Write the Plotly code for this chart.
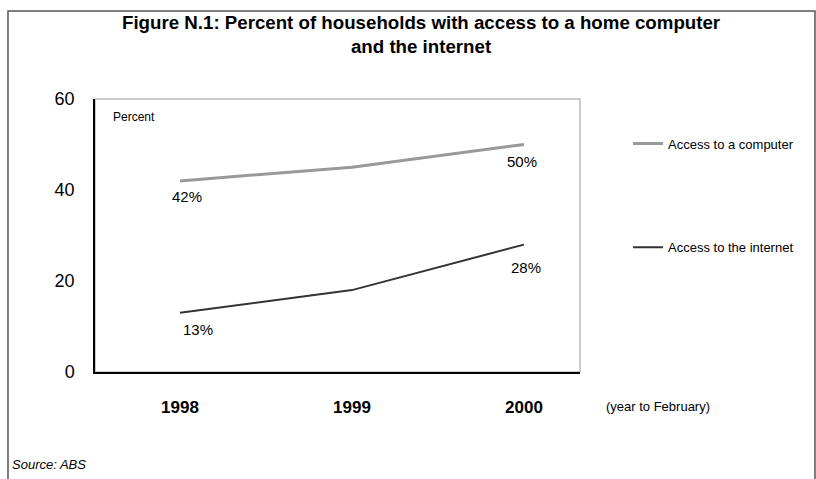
import plotly.graph_objects as go

years = [1998, 1999, 2000]
year_labels = ["1998", "1999", "2000"]
computer = [42, 45, 50]
internet = [13, 18, 28]
series_names = ["Access to a computer", "Access to the internet"]
y_ticks = [0, 20, 40, 60]
title_text = "Figure N.1: Percent of households with access to a home computer<br>and the internet"

FONT = "Liberation Sans, Arial, sans-serif"

fig = go.Figure()
fig.add_trace(go.Scatter(x=years, y=computer, mode="lines", name=series_names[0],
                         line=dict(color="#999999", width=3), legendgroup="a"))
fig.add_trace(go.Scatter(x=years, y=internet, mode="lines", name=series_names[1],
                         line=dict(color="#333333", width=2), legendgroup="b"))

# data labels
label_pts = [
    (years[0], computer[0], 7, -16),
    (years[2], computer[2], -2, -17),
    (years[0], internet[0], 18, -17),
    (years[2], internet[2], 2, -23),
]
for x, y, xs, ys in label_pts:
    fig.add_annotation(x=x, y=y, text=f"{y}%", showarrow=False, xshift=xs, yshift=ys,
                       font=dict(family=FONT, size=15, color="#000"))

# title
fig.add_annotation(xref="paper", yref="paper", x=0.672, y=1.238, xanchor="center", yanchor="middle",
                   text=f"<b>{title_text}</b>", showarrow=False, align="center",
                   font=dict(family=FONT, size=18.7, color="#000"))

fig.add_annotation(xref="paper", yref="paper", x=0.032, y=0.934, xanchor="left", yanchor="middle",
                   text="Percent", showarrow=False, font=dict(family=FONT, size=12, color="#000"))
fig.add_annotation(xref="paper", yref="paper", x=1.05, y=-0.125, xanchor="left", yanchor="middle",
                   text="(year to February)", showarrow=False, font=dict(family=FONT, size=13, color="#000"))
fig.add_annotation(xref="paper", yref="paper", x=-0.175, y=-0.34, xanchor="left", yanchor="middle",
                   text="<i>Source: ABS</i>", showarrow=False, font=dict(family=FONT, size=13, color="#000"))

# plot-area top/right border (gray)
fig.add_shape(type="rect", xref="paper", yref="paper", x0=0, x1=1, y0=0, y1=1,
              line=dict(color="#bbbbbb", width=1.5), layer="below")
# outer figure frame
fig.add_shape(type="rect", xref="paper", yref="paper", x0=-0.1794, x1=1.4845, y0=-0.43, y1=1.3223,
              line=dict(color="#555555", width=1.5))

fig.update_layout(
    width=816, height=479,
    margin=dict(l=95, r=236, t=99, b=107),
    paper_bgcolor="white", plot_bgcolor="white",
    showlegend=True,
    legend=dict(x=1.099, xanchor="left", y=0.892, yanchor="top", tracegroupgap=84,
                font=dict(family=FONT, size=13, color="#000"), bgcolor="rgba(0,0,0,0)"),
    xaxis=dict(range=[1997.506, 2000.326], tickvals=years, ticktext=year_labels,
               showgrid=False, zeroline=False, showline=True, linecolor="#000", linewidth=1.5,
               ticks="", ticklabelstandoff=19,
               tickfont=dict(family=FONT, size=17, color="#000", weight="bold")),
    yaxis=dict(range=[0, 60], tickvals=y_ticks, showgrid=False, zeroline=False,
               showline=True, linecolor="#000", linewidth=1.5, ticks="", ticklabelstandoff=15,
               tickfont=dict(family=FONT, size=18, color="#000")),
)

fig.write_html("out.html")
